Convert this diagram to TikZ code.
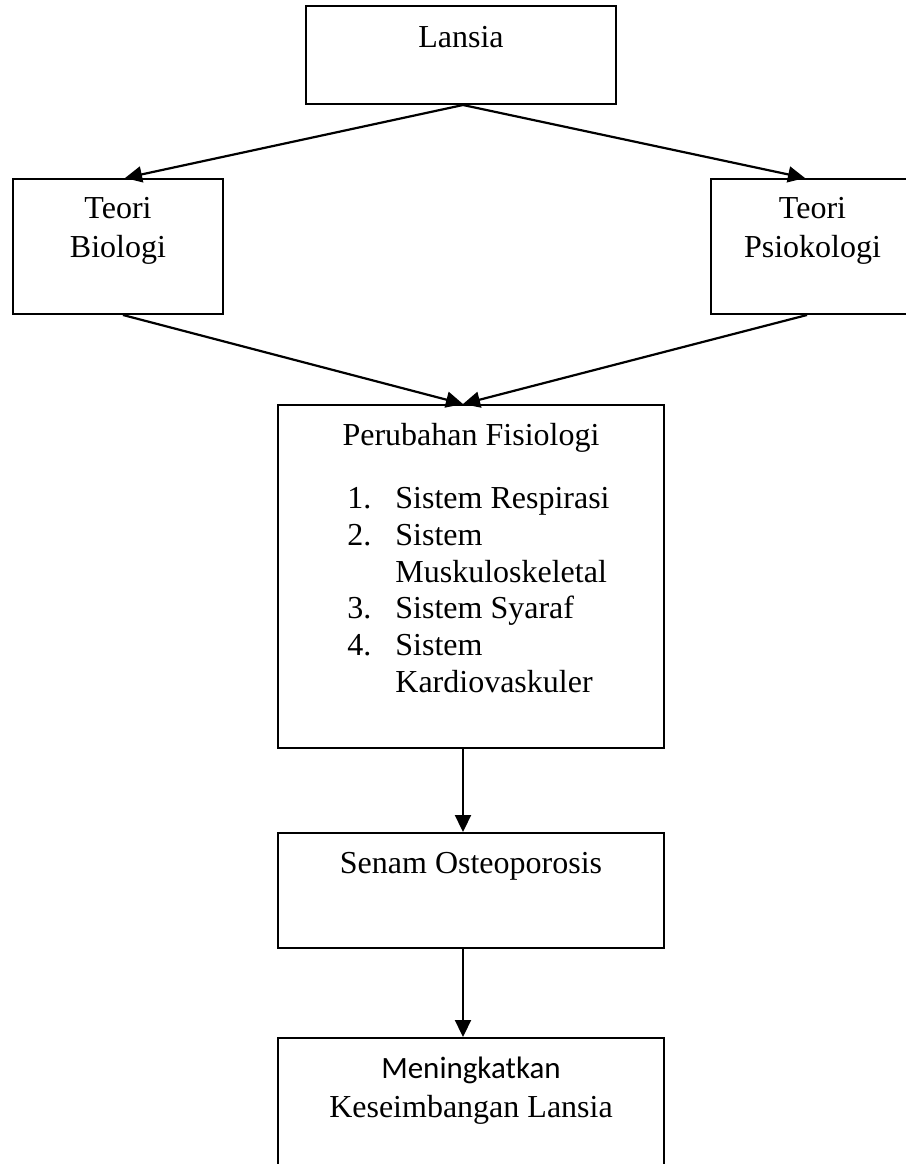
\documentclass[tikz,border=0pt]{standalone}
\usepackage{fontspec}
\setmainfont{Liberation Serif}
\newfontfamily\calib{Carlito}
\usetikzlibrary{arrows.meta}
\begin{document}
\begin{tikzpicture}[x=0.5pt,y=-0.5pt,
  box/.style={draw, line width=1pt, rectangle, inner sep=0pt},
  txt/.style={anchor=base, inner sep=0pt, font=\fontsize{16}{18.4}\selectfont},
  arr/.style={line width=1.1pt, -{Triangle[length=8.5pt,width=8pt]}}]
\clip (0,0) rectangle (906,1164);
\fill[white] (0,0) rectangle (906,1164);
% boxes
\node[box, minimum width=155pt, minimum height=49pt] (lansia) at (461,55) {};
\node[box, minimum width=105pt, minimum height=67.5pt] (bio) at (118,246.5) {};
\node[box, minimum width=101.5pt, minimum height=67.5pt] (psi) at (812.5,246.5) {};
\node[box, minimum width=193pt, minimum height=171.5pt] (fis) at (471,576.5) {};
\node[box, minimum width=193pt, minimum height=57.5pt] (senam) at (471,890.5) {};
\node[box, minimum width=193pt, minimum height=81pt] (men) at (471,1119) {};
% texts
\node[txt] (t1) at (461,47) {Lansia};
\node[txt] (t2) at (118,218) {Teori};
\node[txt] (t3) at (118,257) {Biologi};
\node[txt] (t4) at (812.5,218) {Teori};
\node[txt] (t5) at (812.5,257) {Psiokologi};
\node[txt] (t6) at (471,445) {Perubahan Fisiologi};
\begin{scope}[every node/.style={txt, anchor=base west}]
\node (n1) at (347,508) {1.};
\node (l1) at (395,508) {Sistem Respirasi};
\node (n2) at (347,545) {2.};
\node (l2) at (395,545) {Sistem};
\node (l3) at (395,582) {Muskuloskeletal};
\node (n3) at (347,618) {3.};
\node (l4) at (395,618) {Sistem Syaraf};
\node (n4) at (347,655) {4.};
\node (l5) at (395,655) {Sistem};
\node (l6) at (395,692) {Kardiovaskuler};
\end{scope}
\node[txt] (t7) at (471,873) {Senam Osteoporosis};
\node[txt, font=\calib\fontsize{15.5}{18}\selectfont] (t8) at (471,1078) {Meningkatkan};
\node[txt] (t9) at (471,1117) {Keseimbangan Lansia};
% arrows
\draw[arr] ([xshift=1pt]lansia.south) -- ([xshift=3.5pt]bio.north);
\draw[arr] ([xshift=1pt]lansia.south) -- ([xshift=-3.75pt]psi.north);
\draw[arr] ([xshift=2.5pt]bio.south) -- ([xshift=-4pt]fis.north);
\draw[arr] ([xshift=-2.75pt]psi.south) -- ([xshift=-4pt]fis.north);
\draw[arr] ([xshift=-4pt]fis.south) -- ([xshift=-4pt]senam.north);
\draw[arr] ([xshift=-4pt]senam.south) -- ([xshift=-4pt]men.north);
\end{tikzpicture}
\end{document}
